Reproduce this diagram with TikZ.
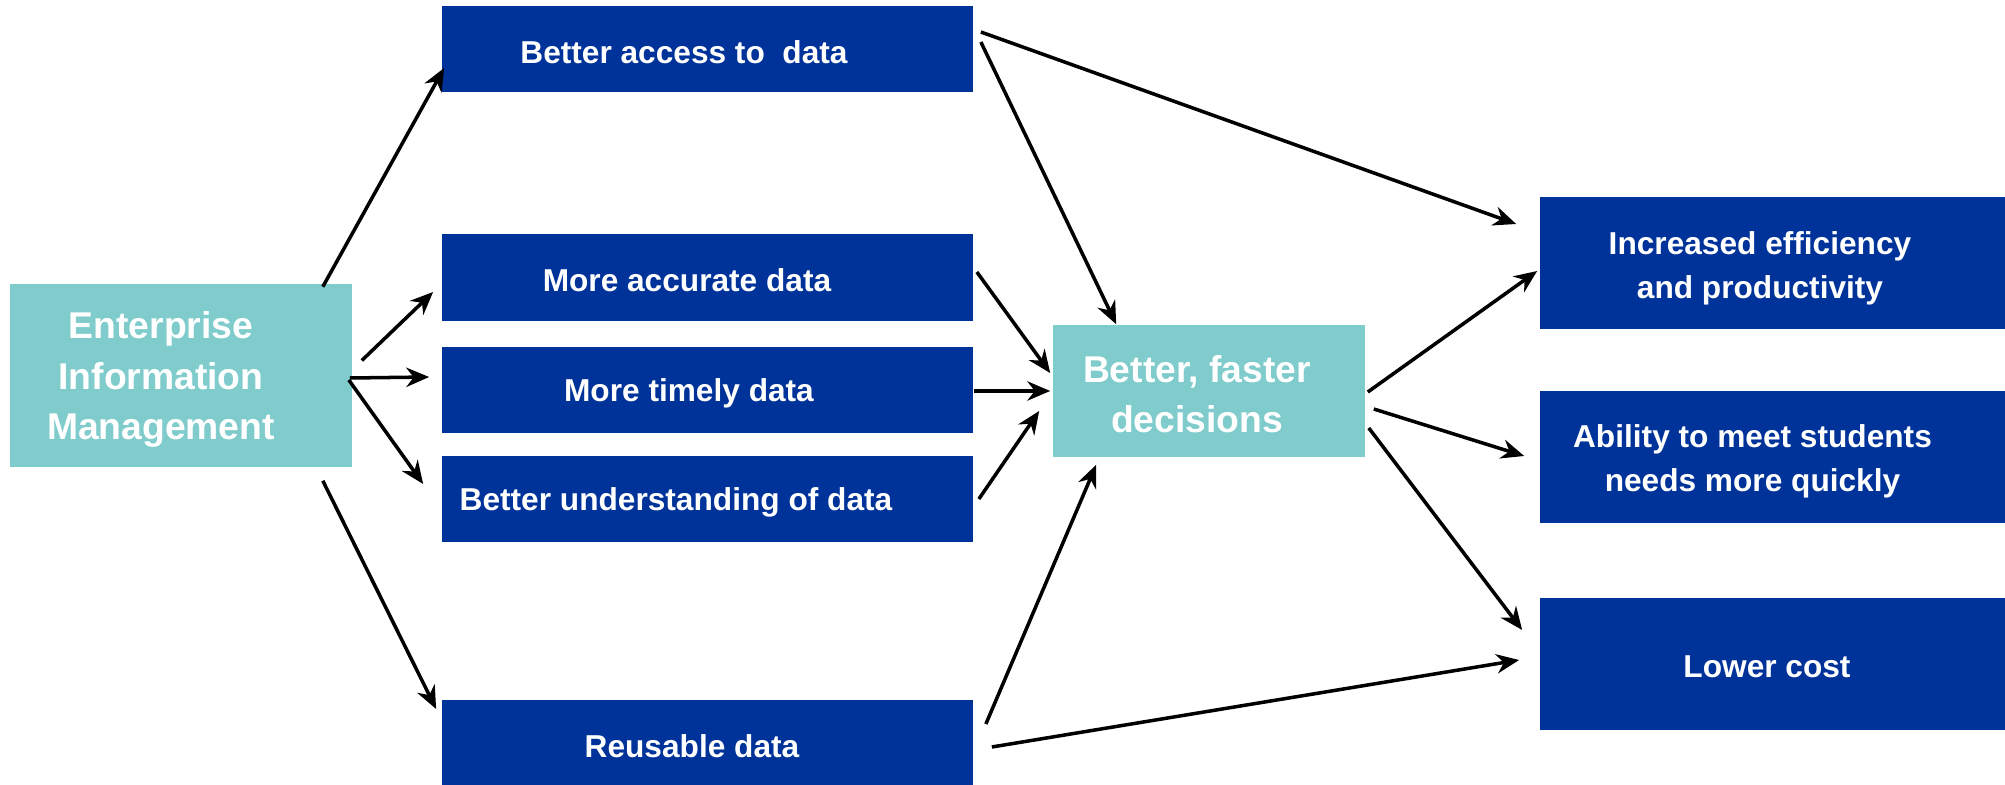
\documentclass[tikz,border=0pt]{standalone}
\usepackage{fontspec}
\setmainfont{Liberation Sans}
\usetikzlibrary{arrows.meta,calc}
\definecolor{boxblue}{RGB}{0,51,153}
\definecolor{paleteal}{RGB}{128,204,204}
\begin{document}
\begin{tikzpicture}[x=0.01cm,y=-0.01cm,
  box/.style={fill=boxblue,minimum width=5.31cm,minimum height=0.86cm,inner sep=0pt},
  pale/.style={fill=paleteal,inner sep=0pt},
  txt/.style={text=white,font=\bfseries\fontsize{9}{12.5}\selectfont,align=center,inner sep=0pt},
  big/.style={text=white,font=\bfseries\fontsize{10.6}{14.4}\selectfont,align=center,inner sep=0pt},
  arr/.style={-{Stealth[length=6.5pt,width=5.5pt]},line width=1pt}]
\useasboundingbox (0,0) rectangle (2005,785);

\node[pale,minimum width=3.42cm,minimum height=1.82cm] (eim) at (181,375.5) {};
\node[big] at ($(eim)+(-20,4)$) {Enterprise\\Information\\Management};

\node[box] (acc) at (707.5,49) {};
\node[box] (accu) at (707.5,277.5) {};
\node[box] (timely) at (707.5,390) {};
\node[box] (under) at (707.5,499) {};
\node[box] (reuse) at (707.5,743) {};
\node[txt] at ($(acc)+(-23.5,3)$) {Better access to~ data};
\node[txt] at ($(accu)+(-20.5,3)$) {More accurate data};
\node[txt] at ($(timely)+(-18.5,3)$) {More timely data};
\node[txt] at ($(under)+(-31.5,3)$) {Better understanding of data};
\node[txt] at ($(reuse)+(-15.5,3)$) {Reusable data};

\node[pale,minimum width=3.12cm,minimum height=1.32cm] (bfd) at (1209,391) {};
\node[big] at ($(bfd)+(-12,3)$) {Better, faster\\decisions};

\node[box,minimum width=4.65cm,minimum height=1.32cm] (eff) at (1772.5,263) {};
\node[box,minimum width=4.65cm,minimum height=1.32cm] (abil) at (1772.5,457) {};
\node[box,minimum width=4.65cm,minimum height=1.32cm] (cost) at (1772.5,664) {};
\node[txt] at ($(eff)+(-12.5,5)$) {Increased efficiency\\and productivity};
\node[txt] at ($(abil)+(-20,4)$) {Ability to meet students\\needs more quickly};
\node[txt] at ($(cost)+(-5.5,3)$) {Lower cost};

\draw[arr] ($(eim.north east)+(-30,3)$) -- ($(acc.west)+(3,19)$);
\draw[arr] ($(eim.east)+(9,-15)$) -- ($(accu.west)+(-8,14.5)$);
\draw[arr] ($(eim.east)+(-3,2.5)$) -- ($(timely.west)+(-12,-13)$);
\draw[arr] ($(eim.east)+(-4,4.5)$) -- ($(under.west)+(-18,-15)$);
\draw[arr] ($(eim.south east)+(-30,13.5)$) -- ($(reuse.west)+(-5,-34)$);

\draw[arr] ($(acc.east)+(7,-17)$) -- ($(eff.west)+(-23,-39)$);
\draw[arr] ($(acc.east)+(7,-7)$) -- ($(bfd.north west)+(64,0)$);
\draw[arr] ($(accu.east)+(3,-5.5)$) -- ($(bfd.west)+(-2,-18)$);
\draw[arr] ($(timely.east)+(0,1)$) -- ($(bfd.west)+(-2,0)$);
\draw[arr] ($(under.east)+(5,0)$) -- ($(bfd.west)+(-13,20)$);
\draw[arr] ($(reuse.east)+(12,-19)$) -- ($(bfd.south west)+(44,7)$);
\draw[arr] ($(reuse.east)+(18,4)$) -- ($(cost.west)+(-20,-4)$);

\draw[arr] ($(bfd.east)+(2,1)$) -- ($(eff.west)+(-2,8)$);
\draw[arr] ($(bfd.east)+(8,18)$) -- ($(abil.west)+(-15,-1)$);
\draw[arr] ($(bfd.east)+(3,37)$) -- ($(cost.west)+(-17,-34)$);
\end{tikzpicture}
\end{document}
